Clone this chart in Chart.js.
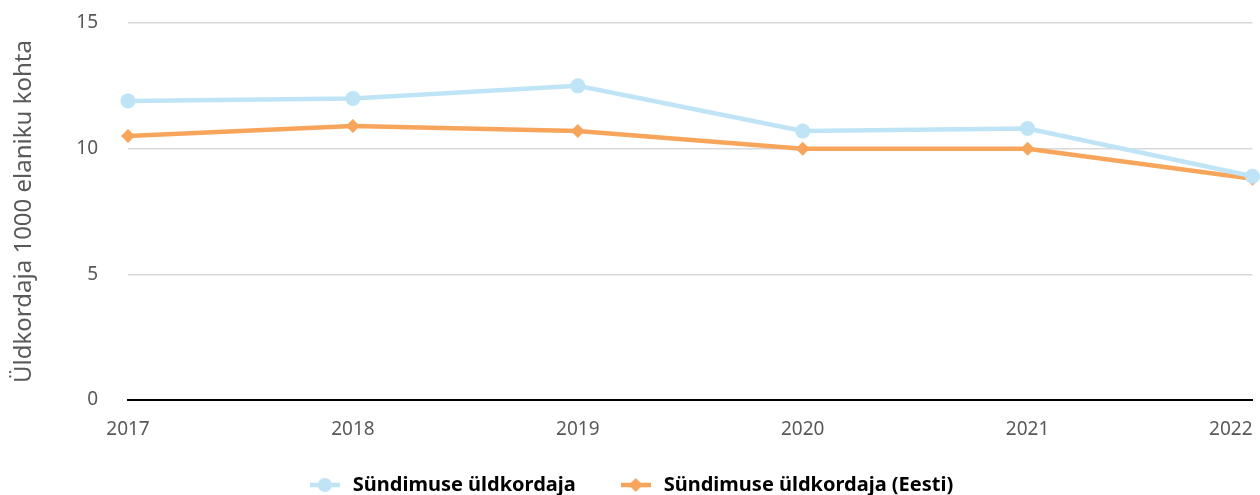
<!DOCTYPE html>
<html>
<head>
<meta charset="utf-8">
<script src="https://cdn.jsdelivr.net/npm/chart.js@4.4.0/dist/chart.umd.min.js"></script>
<style>
  html, body { margin: 0; padding: 0; background: #fff; }
  #wrap { width: 1260px; height: 495px; }
</style>
</head>
<body>
<div id="wrap"><canvas id="myChart"></canvas></div>
<script>
const years = ["2017", "2018", "2019", "2020", "2021", "2022"];
const birthRate = [11.9, 12.0, 12.5, 10.7, 10.8, 8.9];
const birthRateEstonia = [10.5, 10.9, 10.7, 10.0, 10.0, 8.8];
const seriesNames = ["Sündimuse üldkordaja", "Sündimuse üldkordaja (Eesti)"];
const yTitle = "Üldkordaja 1000 elaniku kohta";

const blue = "#bfe4f6";
const orange = "#f8a55c";
const tickFont = { family: "'Noto Sans'", size: 19 };

// small legend icon: line with the marker in the middle
function legendIcon(color, shape) {
     const c = document.createElement("canvas");
     c.width = 30;
     c.height = 16;
     const g = c.getContext("2d");
     g.strokeStyle = color;
     g.lineWidth = 4.5;
     g.beginPath();
     g.moveTo(0, 8);
     g.lineTo(30, 8);
     g.stroke();
     g.fillStyle = color;
     g.beginPath();
     if (shape === "circle") {
          g.arc(15, 8, 7, 0, Math.PI * 2);
     } else {
          g.moveTo(15, 1);
          g.lineTo(22, 8);
          g.lineTo(15, 15);
          g.lineTo(8, 8);
          g.closePath();
     }
     g.fill();
     return c;
}

const icons = [legendIcon(blue, "circle"), legendIcon(orange, "diamond")];

// x labels hang below the short x box, so widen its clip area after layout;
// the last year label sits right-aligned at the end of the axis
const xLabels = {
     id: "xLabels",
     afterLayout(chart) {
          chart.scales.x.bottom = chart.height;
     },
     afterDraw(chart) {
          const s = chart.scales.x;
          const last = s.ticks.length - 1;
          const item = s._labelItems && s._labelItems[0];
          if (!item) return;
          const ctx = chart.ctx;
          ctx.save();
          ctx.font = `${tickFont.size}px ${tickFont.family}`;
          ctx.fillStyle = "#595959";
          ctx.textAlign = "right";
          ctx.textBaseline = item.options.textBaseline;
          ctx.fillText(years[last], s.getPixelForTick(last), item.options.translation[1] + (item.textOffset || 0));
          ctx.restore();
     }
};

const data = {
     labels: years,
     datasets: [
          {
               label: seriesNames[0],
               data: birthRate,
               borderColor: blue,
               backgroundColor: blue,
               borderWidth: 4.5,
               pointStyle: "circle",
               pointRadius: 7.5,
               pointHoverRadius: 7.5,
               pointBorderWidth: 0,
               clip: false,
               tension: 0
          },
          {
               label: seriesNames[1],
               data: birthRateEstonia,
               borderColor: orange,
               backgroundColor: orange,
               borderWidth: 4.5,
               pointStyle: "rectRot",
               pointRadius: 7,
               pointHoverRadius: 7,
               pointBorderWidth: 0,
               clip: false,
               tension: 0
          }
     ]
};

const config = {
     type: "line",
     data: data,
     plugins: [xLabels],
     options: {
          responsive: true,
          maintainAspectRatio: false,
          animation: false,
          layout: { padding: 0 },
          plugins: {
               tooltip: { enabled: false },
               legend: {
                    position: "bottom",
                    maxHeight: 62,
                    labels: {
                         usePointStyle: true,
                         pointStyleWidth: 36,
                         padding: 42,
                         color: "#333333",
                         font: { family: "'Noto Sans'", size: 20, weight: "bold" },
                         generateLabels: (chart) =>
                              chart.data.datasets.map((ds, i) => ({
                                   text: ds.label,
                                   pointStyle: icons[i],
                                   fillStyle: ds.borderColor,
                                   strokeStyle: ds.borderColor,
                                   lineWidth: 0,
                                   hidden: false,
                                   datasetIndex: i
                              }))
                    }
               }
          },
          scales: {
               x: {
                    grid: { display: false },
                    border: { display: true, color: "#000000", width: 2 },
                    ticks: {
                         color: (ctx) => (ctx.index === years.length - 1 ? "rgba(0,0,0,0)" : "#595959"),
                         padding: 10,
                         maxRotation: 0,
                         font: tickFont
                    },
                    afterFit: (scale) => {
                         scale.paddingRight = 3;
                         scale.height = 33;
                    }
               },
               y: {
                    min: 0,
                    max: 15,
                    grid: { color: "#d9d9d9", lineWidth: 1.5, drawTicks: false },
                    border: { display: false },
                    ticks: {
                         stepSize: 5,
                         color: "#595959",
                         padding: 30,
                         font: tickFont
                    },
                    title: {
                         display: true,
                         text: yTitle,
                         color: "#595959",
                         padding: { top: 10, bottom: 8 },
                         font: { family: "'Noto Sans'", size: 24 }
                    },
                    afterFit: (scale) => {
                         scale.width = 128;
                         scale.paddingTop = 23;
                         scale.paddingBottom = 0;
                    }
               }
          }
     }
};

const myChart = new Chart(document.getElementById("myChart"), config);
</script>
</body>
</html>
